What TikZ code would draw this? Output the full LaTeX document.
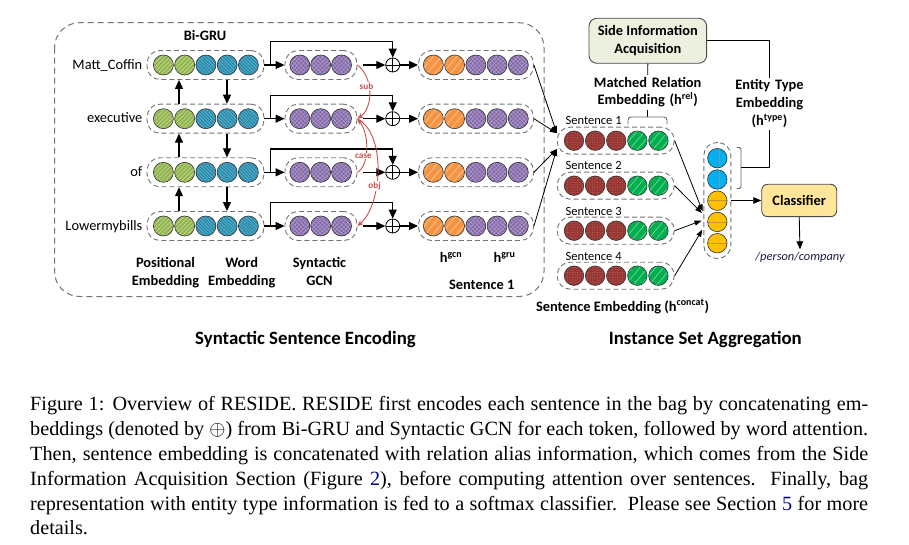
\documentclass[tikz,border=0pt]{standalone}
\usepackage{fontspec}
\setmainfont{Carlito}
\newfontfamily\CapFont{Liberation Serif}
\usetikzlibrary{arrows.meta,patterns,patterns.meta,calc}
\definecolor{pgreen}{RGB}{146,181,80}
\definecolor{pgreenl}{RGB}{188,212,140}
\definecolor{wblue}{RGB}{45,140,172}
\definecolor{wbluel}{RGB}{95,182,208}
\definecolor{gpur}{RGB}{132,104,166}
\definecolor{gpurl}{RGB}{168,148,198}
\definecolor{orng}{RGB}{245,148,66}
\definecolor{orngl}{RGB}{250,186,130}
\definecolor{brwn}{RGB}{150,55,52}
\definecolor{brwnl}{RGB}{188,88,82}
\definecolor{sgrn}{RGB}{0,176,80}
\definecolor{sgrnl}{RGB}{110,210,140}
\definecolor{lblue}{RGB}{0,176,240}
\definecolor{lbluel}{RGB}{120,150,170}
\definecolor{ylw}{RGB}{255,192,0}
\definecolor{ylwl}{RGB}{190,150,60}
\definecolor{depred}{RGB}{200,80,77}
\definecolor{siafill}{RGB}{235,241,222}
\definecolor{clsfill}{RGB}{255,230,153}
\definecolor{linkblue}{RGB}{0,0,140}
\definecolor{pctext}{RGB}{25,30,70}
\newcommand\FntLab{\fontsize{14.4}{17.7}\selectfont\bfseries}
\newcommand\FntRow{\fontsize{14.4}{17.7}\selectfont}
\newcommand\FntSen{\fontsize{12.5}{15}\selectfont}
\newcommand\FntBig{\fontsize{18.8}{22}\selectfont\bfseries}
\newcommand\FntDep{\fontsize{9.2}{10}\selectfont\bfseries}
\newcommand\FntCap{\CapFont\fontsize{20.2}{24.85}\selectfont}
\tikzset{
  cbase/.style={circle, inner sep=0pt, minimum size=20pt, draw=black!80, line width=0.6pt},
  posc/.style={cbase, preaction={fill=pgreen}, pattern={Lines[angle=45,distance=3pt,line width=0.8pt]}, pattern color=pgreenl},
  wrdc/.style={cbase, preaction={fill=wblue}, pattern={Lines[angle=-45,distance=2.4pt,line width=0.6pt]}, pattern color=wbluel},
  gcnc/.style={cbase, preaction={fill=gpur}, pattern={Hatch[angle=45,distance=3pt,line width=0.7pt]}, pattern color=gpurl},
  orgc/.style={cbase, preaction={fill=orng}, pattern={Lines[angle=50,distance=6pt,line width=1pt]}, pattern color=orngl},
  brnc/.style={cbase, minimum size=19.5pt, preaction={fill=brwn}, pattern={Dots[distance=2.5pt,radius=0.6pt]}, pattern color=brwnl},
  sgnc/.style={cbase, minimum size=19.5pt, preaction={fill=sgrn}, pattern={Lines[angle=50,distance=6pt,line width=0.8pt]}, pattern color=sgrnl},
  lblc/.style={cbase, minimum size=19.5pt, fill=lblue, path picture={\draw[lbluel, line width=0.5pt] ([xshift=2pt]path picture bounding box.north) -- ([xshift=2pt]path picture bounding box.south);}},
  ylwc/.style={cbase, minimum size=19.5pt, fill=ylw, path picture={\draw[ylwl, line width=0.5pt] (path picture bounding box.west) -- (path picture bounding box.east);}},
  capsule/.style={draw=black!55, line width=0.9pt, dash pattern=on 5pt off 3pt, rounded corners=13pt, inner sep=0pt},
  oplusnode/.style={circle, draw=black, line width=0.8pt, minimum size=14pt, inner sep=0pt, fill=white,
     path picture={\draw[line width=0.8pt] (path picture bounding box.north) -- (path picture bounding box.south) (path picture bounding box.west) -- (path picture bounding box.east);}},
  arr/.style={draw=black, line width=1.1pt, -{Triangle[length=9pt,width=8pt]}},
  sarr/.style={draw=black, line width=0.8pt, -{Triangle[length=7pt,width=5pt]}},
  marr/.style={draw=black, line width=0.9pt, -{Triangle[length=8pt,width=6.5pt]}},
  conn/.style={draw=black, line width=0.9pt},
  brk/.style={draw=black!60, line width=0.9pt, rounded corners=3pt},
  dep/.style={draw=depred, line width=0.9pt, -{Stealth[length=6pt,width=5pt]}},
  deplab/.style={font=\FntDep, text=depred, fill=white, inner sep=0.6pt},
  lab/.style={font=\FntLab, text width=150pt, align=center, inner sep=2pt, anchor=base},
  sbox/.style={draw=black!70, line width=0.9pt, rounded corners=8pt, font=\FntLab, align=center, inner sep=2pt},
  capline/.style={font=\FntCap, anchor=base west, inner sep=0pt}
}
\begin{document}
\begin{tikzpicture}[x=1pt,y=-1pt]
\useasboundingbox (0,0) rectangle (909,545);
% big dashed frame
\draw[draw=black!55, line width=1pt, dash pattern=on 6pt off 4pt, rounded corners=25pt] (54.5,22.7) rectangle (544,296.5);
% left rows
\foreach \r/\y/\lab in {1/65/Matt\_Coffin, 2/118.7/executive, 3/172.3/of, 4/226/Lowermybills}{
  \node[font=\FntRow, anchor=base east, inner sep=0pt] (lab\r) at (142.5,\y+4.3) {\lab};
  \node[capsule, minimum width=117pt, minimum height=29pt] (wcap\r) at (205.5,\y) {};
  \foreach \k/\st in {0/posc,1/posc,2/wrdc,3/wrdc,4/wrdc}
    \node[\st] (w\r-\k) at (163.4+21.25*\k,\y) {};
  \node[capsule, minimum width=72pt, minimum height=29pt] (gcap\r) at (321,\y) {};
  \foreach \k in {0,1,2}
    \node[gcnc] (g\r-\k) at (299.8+20.85*\k,\y) {};
  \node[oplusnode] (op\r) at (392.7,\y) {};
  \node[capsule, minimum width=115pt, minimum height=29pt] (hcap\r) at (476,\y) {};
  \foreach \k/\st in {0/orgc,1/orgc,2/gcnc,3/gcnc,4/gcnc}
    \node[\st] (h\r-\k) at (433.3+21.25*\k,\y) {};
  \coordinate (j\r) at (270.7,\y);
  \coordinate (t\r) at (392.7,\y-23.3);
  \draw[arr] (wcap\r.east) -- (gcap\r.west);
  \draw[arr] (j\r) |- (t\r) -- (op\r.north);
  \draw[arr, shorten <=6pt] (gcap\r.east) -- (op\r.west);
  \draw[arr] (op\r.east) -- (hcap\r.west);
}
\foreach \r/\s in {1/2,2/3,3/4}{
  \draw[arr] ([xshift=-26.5pt]wcap\s.north) -- ([xshift=-26.5pt]wcap\r.south);
  \draw[arr] ([xshift=21.5pt]wcap\r.south) -- ([xshift=21.5pt]wcap\s.north);
}
% dependency arcs
\draw[dep] (gcap1.east) .. controls (374,78) and (373,108) .. (gcap2.east);
\draw[dep] (gcap3.east) .. controls (369,166) and (370,135) .. (gcap2.east);
\draw[dep] (gcap2.east) .. controls (387,135) and (382,205) .. (gcap4.east);
\node[deplab] (dsub) at (366.5,86) {sub};
\node[deplab] (dcase) at (363.5,156) {case};
\node[deplab] (dobj) at (374.5,186) {obj};
% left labels
\node[font=\FntLab, anchor=base, inner sep=0pt] (bigru) at (205,41) {Bi-GRU};
\node[lab] (posl) at (165.5,267.3) {Positional\\Embedding};
\node[lab] (wrdl) at (241.7,267.3) {Word\\Embedding};
\node[lab] (gcnl) at (319.5,267.3) {Syntactic\\GCN};
\node[font=\FntLab, anchor=base, inner sep=0pt] (hgcn) at (451,262.7) {h\textsuperscript{gcn}};
\node[font=\FntLab, anchor=base, inner sep=0pt] (hgru) at (504.5,262.7) {h\textsuperscript{gru}};
\node[font=\FntLab, anchor=base, inner sep=0pt] (sen1l) at (481.7,289.3) {Sentence 1};
% right sentence capsules
\foreach \r/\y in {1/140.7,2/185.7,3/230.7,4/275.7}{
  \node[font=\FntSen, anchor=base west, inner sep=0pt] (sl\r) at (565.5,\y-15.7) {Sentence \r};
  \node[capsule, minimum width=117pt, minimum height=27pt] (scap\r) at (615.7,\y) {};
  \foreach \k/\st in {0/brnc,1/brnc,2/brnc,3/sgnc,4/sgnc}
    \node[\st] (s\r-\k) at (574+21.1*\k,\y) {};
}
\draw[sarr] (hcap1.east) -- ([yshift=7.5pt]scap1.west);
\draw[sarr] (hcap2.east) -- ([yshift=7.5pt]scap1.west);
\draw[sarr] (hcap3.east) -- ([yshift=-8.3pt]scap1.west);
\draw[sarr] (hcap4.east) -- ([yshift=-8.3pt]scap1.west);
% column vector
\node[capsule, minimum width=27pt, minimum height=116pt] (ccap) at (717.3,200.5) {};
\foreach \k/\st in {0/lblc,1/lblc,2/ylwc,3/ylwc,4/ylwc}
  \node[\st] (c\k) at (717.3,158.2+21.25*\k) {};
\draw[sarr, shorten >=2pt] (scap1.east) -- ([yshift=-12.8pt]ccap.west);
\draw[sarr, shorten >=2pt] (scap2.east) -- ([yshift=-14pt]ccap.west);
\draw[sarr, shorten >=2pt] (scap3.east) -- ([yshift=-19.5pt]ccap.west);
\draw[sarr, shorten >=2pt] (scap4.east) -- ([yshift=-27.5pt]ccap.west);
\node[font=\FntLab, anchor=base, inner sep=0pt] (sembl) at (622.5,311) {Sentence Embedding (h\textsuperscript{concat})};
% side information
\node[sbox, fill=siafill, minimum width=117.7pt, minimum height=45pt] (sia) at (647.8,40.8) {Side Information\\Acquisition};
\node[lab] (mrl) at (647.7,87.3) {Matched Relation\\Embedding (h\textsuperscript{rel})};
\coordinate (brtop) at (647.7,117);
\draw[conn] (sia.south) -- (mrl.north);
\draw[conn] (mrl.south) -- (brtop);
\draw[brk] (628,124.5) -- (628,117) -- (667,117) -- (667,124.5);
\node[lab] (etl) at (769.5,90) {Entity Type\\Embedding\\(h\textsuperscript{type})};
\draw[conn] (sia.east) -| (etl.north);
\coordinate (bmid) at (741,167.5);
\draw[conn] (etl.south) |- (bmid);
\draw[brk, rounded corners=2pt] (736.5,147.5) -- (741,147.5) -- (741,188.5) -- (736.5,188.5);
% classifier
\node[sbox, fill=clsfill, rounded corners=6pt, minimum width=75pt, minimum height=32.4pt] (cls) at (799.2,200.5) {Classifier};
\draw[marr] (ccap.east) -- (cls.west);
\node[font=\fontsize{12.4}{14}\selectfont\itshape, anchor=base, inner sep=2pt, text=pctext] (pc) at (800,260) {/person/company};
\draw[marr] (cls.south) -- (pc.north);
% titles
\node[font=\FntBig, anchor=base, inner sep=0pt] (t1) at (305.5,344.7) {Syntactic Sentence Encoding};
\node[font=\FntBig, anchor=base, inner sep=0pt] (t2) at (705.3,344.7) {Instance Set Aggregation};
% caption
\node[capline] (cap1) at (30,410.7) {\hbox to 838pt{Figure 1: Overview of RESIDE. RESIDE first encodes each sentence in the bag by concatenating em-}};
\node[capline] (cap2) at (30,435.55) {\hbox to 838pt{beddings (denoted by $\oplus$) from Bi-GRU and Syntactic GCN for each token, followed by word attention.}};
\node[capline] (cap3) at (30,460.4) {\hbox to 838pt{Then, sentence embedding is concatenated with relation alias information, which comes from the Side}};
\node[capline] (cap4) at (30,485.25) {\hbox to 838pt{Information Acquisition Section (Figure {\color{linkblue}2}), before computing attention over sentences.\ \ Finally, bag}};
\node[capline] (cap5) at (30,510.1) {\hbox to 838pt{representation with entity type information is fed to a softmax classifier.\ \ Please see Section {\color{linkblue}5} for more}};
\node[capline] (cap6) at (30,534.95) {details.};
\end{tikzpicture}
\end{document}
